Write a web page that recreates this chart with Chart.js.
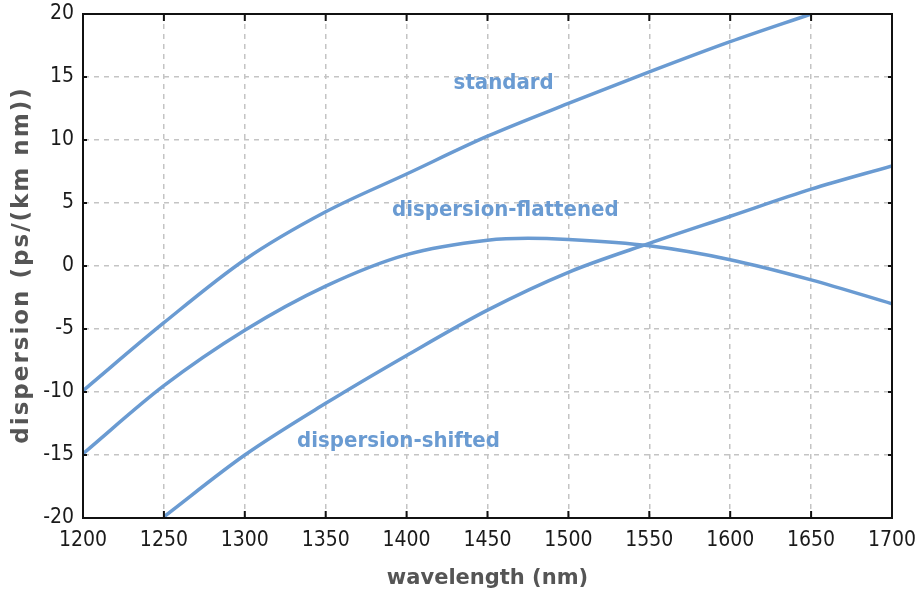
<!DOCTYPE html>
<html>
<head>
<meta charset="utf-8">
<script src="https://cdn.jsdelivr.net/npm/chart.js@4"></script>
<style>
  html, body { margin: 0; padding: 0; background: #fff; }
  #wrap { width: 918px; height: 593px; }
</style>
</head>
<body>
<div id="wrap"><canvas id="myChart" width="918" height="593"></canvas></div>
<script>
// ---------------- data ---------------- //
var standardNm    = [1200, 1250, 1300, 1350, 1400, 1450, 1500, 1550, 1600, 1650];
var standardPs    = [-9.9, -4.5, 0.5, 4.3, 7.3, 10.3, 12.9, 15.4, 17.8, 20.0];

var flattenedNm   = [1200, 1250, 1300, 1350, 1400, 1450, 1475, 1500, 1550, 1600, 1650, 1700];
var flattenedPs   = [-14.9, -9.5, -5.1, -1.6, 0.9, 2.05, 2.2, 2.1, 1.6, 0.5, -1.1, -3.0];

var shiftedNm     = [1250, 1300, 1350, 1400, 1450, 1500, 1550, 1600, 1650, 1700];
var shiftedPs     = [-19.9, -15.0, -10.9, -7.1, -3.5, -0.5, 1.8, 3.95, 6.1, 7.95];

var seriesNames   = ['standard', 'dispersion-flattened', 'dispersion-shifted'];
var xTitle = 'wavelength (nm)';
var yTitle = 'dispersion (ps/(km nm))';

var lineColor = '#6a9bd2';

function toPoints(xs, ys) {
    var pts = [];
    for (var i = 0; i < xs.length; i++) pts.push({x: xs[i], y: ys[i]});
    return pts;
}

// frame with inward ticks, curve labels, spaced-out y title
var decorations = {
    id: 'decorations',
    afterDatasetsDraw: function(chart) {
        var c = chart.ctx, a = chart.chartArea;
        var xs = chart.scales.x, ys = chart.scales.y;
        c.save();
        // frame
        c.strokeStyle = '#111';
        c.lineWidth = 2;
        c.strokeRect(a.left, a.top, a.right - a.left, a.bottom - a.top);
        // inward ticks
        xs.ticks.forEach(function(t) {
            var px = xs.getPixelForValue(t.value);
            c.beginPath();
            c.moveTo(px, a.bottom); c.lineTo(px, a.bottom - 7);
            c.moveTo(px, a.top); c.lineTo(px, a.top + 7);
            c.stroke();
        });
        ys.ticks.forEach(function(t) {
            var py = ys.getPixelForValue(t.value);
            c.beginPath();
            c.moveTo(a.left, py); c.lineTo(a.left + 4, py);
            c.moveTo(a.right, py); c.lineTo(a.right - 4, py);
            c.stroke();
        });
        // curve labels
        var labels = chart.options.plugins.decorations.labels;
        c.fillStyle = lineColor;
        c.font = 'bold 22px "DejaVu Sans Condensed", "DejaVu Sans", sans-serif';
        c.textAlign = 'center';
        c.textBaseline = 'middle';
        labels.forEach(function(l) {
            c.fillText(l.text, xs.getPixelForValue(l.x), ys.getPixelForValue(l.y));
        });
        // y title
        c.translate(22, (a.top + a.bottom) / 2);
        c.rotate(-Math.PI / 2);
        c.fillStyle = '#555';
        c.font = 'bold 23px "DejaVu Sans", sans-serif';
        c.letterSpacing = '2px';
        c.fillText(yTitle, 1, 0);
        c.restore();
    }
};

var tickFont = { family: '"DejaVu Sans Condensed", "DejaVu Sans", sans-serif', size: 21 };

var ctx = document.getElementById('myChart').getContext('2d');
var chart = new Chart(ctx, {
    type: 'line',
    data: {
        datasets: [
            { label: seriesNames[0], data: toPoints(standardNm, standardPs) },
            { label: seriesNames[1], data: toPoints(flattenedNm, flattenedPs) },
            { label: seriesNames[2], data: toPoints(shiftedNm, shiftedPs) }
        ]
    },
    options: {
        responsive: false,
        animation: false,
        layout: { padding: { top: 14, right: 26, left: 0, bottom: 0 } },
        elements: {
            line: { borderColor: lineColor, borderWidth: 3.5, cubicInterpolationMode: 'monotone', fill: false },
            point: { radius: 0 }
        },
        plugins: {
            legend: { display: false },
            tooltip: { enabled: false },
            decorations: {
                labels: [
                    { text: seriesNames[0], x: 1460, y: 14.5 },
                    { text: seriesNames[1], x: 1461, y: 4.4 },
                    { text: seriesNames[2], x: 1395, y: -13.9 }
                ]
            }
        },
        scales: {
            x: {
                type: 'linear',
                min: 1200, max: 1700,
                afterFit: function(s) { s.height = 75; s.paddingLeft = 0; s.paddingRight = 0; },
                ticks: {
                    stepSize: 50,
                    color: '#1a1a1a',
                    padding: 10,
                    maxRotation: 0,
                    font: tickFont,
                    callback: function(v) { return String(v); }
                },
                grid: { color: '#c4c4c4', lineWidth: 1.5, drawTicks: false },
                border: { display: true, color: '#111', width: 2, dash: [5, 5] },
                title: {
                    display: true,
                    text: xTitle,
                    color: '#555',
                    padding: { top: 0, bottom: 2 },
                    font: { family: '"DejaVu Sans", sans-serif', size: 21, weight: 'bold' }
                }
            },
            y: {
                min: -20, max: 20,
                afterFit: function(s) { s.width = 83; s.paddingTop = 0; s.paddingBottom = 0; },
                ticks: {
                    stepSize: 5,
                    color: '#1a1a1a',
                    padding: 9,
                    font: tickFont
                },
                grid: { color: '#c4c4c4', lineWidth: 1.5, drawTicks: false },
                border: { display: true, color: '#111', width: 2, dash: [5, 5] },
                title: { display: false }
            }
        }
    },
    plugins: [decorations]
});
</script>
</body>
</html>
